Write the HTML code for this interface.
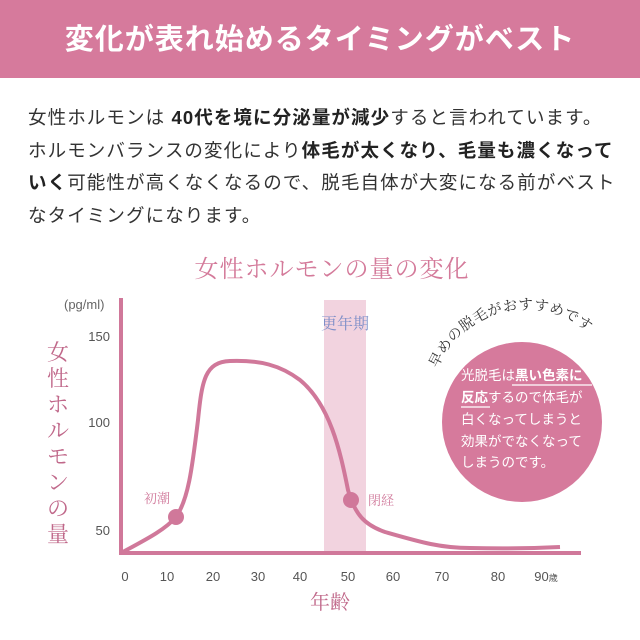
<!DOCTYPE html>
<html><head><meta charset="utf-8"><style>
body{margin:0;width:640px;height:640px;background:#fff;overflow:hidden;font-family:"Liberation Sans","Noto Sans CJK JP",sans-serif}
.ban{position:absolute;left:0;top:0;width:640px;height:78px;background:#d67a9c;color:#fff;font-weight:bold;font-size:29px;text-align:center;line-height:80px;letter-spacing:1px}
.txt{position:absolute;left:28px;top:102px;width:600px;font-size:18.5px;line-height:32.5px;color:#333;letter-spacing:1.1px}
.txt b{color:#222}
</style></head><body>
<div class="ban">変化が表れ始めるタイミングがベスト</div>
<div class="txt">女性ホルモンは <b>40代を境に分泌量が減少</b>すると言われています。<br>ホルモンバランスの変化により<b>体毛が太くなり、毛量も濃くなって</b><br><b>いく</b>可能性が高くなくなるので、脱毛自体が大変になる前がベスト<br>なタイミングになります。</div>
<svg width="640" height="640" style="position:absolute;left:0;top:0" font-family="Liberation Serif,Noto Serif CJK SC,serif">
<text x="332" y="277" font-size="24" fill="#d47a9a" text-anchor="middle" letter-spacing="1">女性ホルモンの量の変化</text>
<rect x="324" y="300" width="42" height="253" fill="#f2d3df"/>
<text x="345" y="329" font-size="16" fill="#7f8fc8" text-anchor="middle">更年期</text>
<line x1="121" y1="298" x2="121" y2="555" stroke="#d0789a" stroke-width="4"/>
<line x1="119" y1="553" x2="581" y2="553" stroke="#d0789a" stroke-width="4"/>
<path d="M121,553 C145,540 165,530 176,517 C188,500 192,470 198,420 C202,380 205,362 230,361 C260,360 280,365 300,380 C330,405 340,450 348,490 C355,515 365,525 385,532 C420,542 440,548 470,548 C510,549 540,548 560,547" fill="none" stroke="#d0789a" stroke-width="4"/>
<circle cx="176" cy="517" r="8" fill="#d0789a"/>
<circle cx="351" cy="500" r="8" fill="#d0789a"/>
<text x="157" y="503" font-size="13" fill="#d0789a" text-anchor="middle">初潮</text>
<text x="381" y="505" font-size="13" fill="#d0789a" text-anchor="middle">閉経</text>
<g font-family="Liberation Sans,sans-serif" font-size="13" fill="#555">
<text x="64" y="309" fill="#666">(pg/ml)</text>
<text x="110" y="341" text-anchor="end">150</text>
<text x="110" y="427" text-anchor="end">100</text>
<text x="110" y="535" text-anchor="end">50</text>
<g text-anchor="middle"><text x="125" y="581">0</text><text x="167" y="581">10</text><text x="213" y="581">20</text><text x="258" y="581">30</text><text x="300" y="581">40</text><text x="348" y="581">50</text><text x="393" y="581">60</text><text x="442" y="581">70</text><text x="498" y="581">80</text><text x="546" y="581">90<tspan font-size="9">歳</tspan></text></g>
</g>
<text x="330" y="609" font-size="20" fill="#c0688a" text-anchor="middle">年齢</text>
<g font-size="22" fill="#c0688a" text-anchor="middle">
<text x="58" y="360">女</text><text x="58" y="386">性</text><text x="58" y="412">ホ</text><text x="58" y="438">ル</text><text x="58" y="464">モ</text><text x="58" y="490">ン</text><text x="58" y="516">の</text><text x="58" y="542">量</text>
</g>
<circle cx="522" cy="422" r="80" fill="#d67a9c"/>
<defs><path id="arc" d="M436,372 A96,96 0 0 1 616,372"/></defs>
<text font-size="14.5" fill="#333" font-family="Liberation Serif,Noto Serif CJK JP,serif" letter-spacing="0.5"><textPath href="#arc" startOffset="4">早めの脱毛がおすすめです</textPath></text>
<g font-family="Liberation Sans,Noto Sans CJK JP,sans-serif" font-size="13.5" fill="#fff">
<text x="461" y="380">光脱毛は<tspan font-weight="bold">黒い色素に</tspan></text>
<line x1="512" y1="385" x2="592" y2="385" stroke="#fff" stroke-width="1.2"/>
<text x="461" y="402"><tspan font-weight="bold">反応</tspan>するので体毛が</text>
<line x1="461" y1="407" x2="490" y2="407" stroke="#fff" stroke-width="1.2"/>
<text x="461" y="424">白くなってしまうと</text>
<text x="461" y="446">効果がでなくなって</text>
<text x="461" y="467">しまうのです。</text>
</g>
</svg>
</body></html>
